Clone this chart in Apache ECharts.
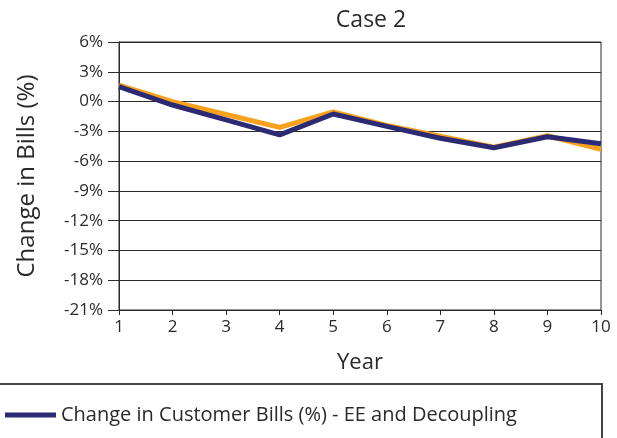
<!DOCTYPE html>
<html>
<head>
<meta charset="utf-8">
<script src="https://cdn.jsdelivr.net/npm/echarts@6/dist/echarts.min.js"></script>
<style>
  html, body { margin: 0; padding: 0; background: #fff; }
  #chart { width: 617px; height: 438px; }
</style>
</head>
<body>
<div id="chart"></div>
<script>
  // 数据
  const years = [1, 2, 3, 4, 5, 6, 7, 8, 9, 10];
  const eeOnly = [1.65, 0.0, -1.3, -2.6, -1.05, -2.4, -3.5, -4.6, -3.45, -4.8];
  const eeDecoupling = [1.5, -0.35, -1.85, -3.35, -1.25, -2.5, -3.7, -4.65, -3.55, -4.25];
  const yTicks = [6, 3, 0, -3, -6, -9, -12, -15, -18, -21];

  const font = '"Open Sans", "Noto Sans", sans-serif';
  const ink = '#2a2a2a';
  const chart = echarts.init(document.getElementById('chart'));

  chart.setOption({
    animation: false,
    textStyle: { fontFamily: font, color: ink },
    title: {
      text: 'Case 2',
      left: 366,
      top: 4,
      textAlign: 'center',
      textStyle: { fontFamily: font, fontSize: 23, fontWeight: 'normal', color: ink }
    },
    grid: {
      left: 119,
      right: 16,
      top: 42,
      bottom: 128,
      show: true,
      borderColor: ink,
      borderWidth: 1
    },
    xAxis: {
      type: 'value',
      min: 1,
      max: 10,
      interval: 1,
      name: 'Year',
      nameLocation: 'middle',
      nameGap: 42,
      nameTextStyle: { fontFamily: font, fontSize: 22, color: ink },
      axisLine: { onZero: false, lineStyle: { color: ink } },
      axisTick: { show: true, inside: false, length: 5, lineStyle: { color: ink } },
      axisLabel: { fontFamily: font, fontSize: 17, color: ink, margin: 9 },
      splitLine: { show: false }
    },
    yAxis: {
      type: 'value',
      min: yTicks[yTicks.length - 1],
      max: yTicks[0],
      interval: 3,
      name: 'Change in Bills (%)',
      nameLocation: 'middle',
      nameGap: 80,
      nameTextStyle: { fontFamily: font, fontSize: 24, color: ink },
      axisLine: { show: true, onZero: false, lineStyle: { color: ink } },
      axisTick: { show: true, length: 11, lineStyle: { color: ink } },
      axisLabel: { fontFamily: font, fontSize: 17, color: ink, margin: 16, formatter: v => v + '%' },
      splitLine: { show: true, lineStyle: { color: ink, width: 1 } }
    },
    legend: {
      data: ['Change in Customer Bills (%) - EE and Decoupling'],
      left: 0,
      top: 400,
      icon: 'rect',
      itemWidth: 51,
      itemHeight: 5,
      z: 10,
      textStyle: { fontFamily: font, fontSize: 20, color: ink }
    },
    graphic: [{
      type: 'rect',
      z: 1,
      shape: { x: -2, y: 384, width: 604, height: 80 },
      style: { fill: '#fff', stroke: '#444', lineWidth: 2 }
    }],
    series: [
      {
        name: 'Change in Customer Bills (%) - EE Only',
        type: 'line',
        data: years.map((y, i) => [y, eeOnly[i]]),
        showSymbol: false,
        lineStyle: { color: '#f8a11c', width: 5 },
        itemStyle: { color: '#f8a11c' }
      },
      {
        name: 'Change in Customer Bills (%) - EE and Decoupling',
        type: 'line',
        data: years.map((y, i) => [y, eeDecoupling[i]]),
        showSymbol: false,
        lineStyle: { color: '#2c2a72', width: 5 },
        itemStyle: { color: '#2c2a72' }
      }
    ]
  });
</script>
</body>
</html>
